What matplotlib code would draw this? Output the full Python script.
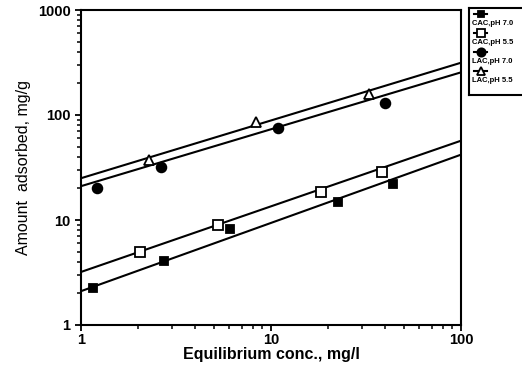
import numpy as np
import matplotlib
matplotlib.use("Agg")
import matplotlib.pyplot as plt
from matplotlib.ticker import LogLocator, NullFormatter, FixedLocator, FixedFormatter

plt.rcParams['font.family'] = ['Liberation Sans', 'DejaVu Sans']
plt.rcParams['font.weight'] = 'bold'

# measured isotherm points (C in mg/l, q in mg/g)
cac70_c = [1.16, 2.72, 6.07, 22.4, 43.7]
cac70_q = [2.25, 4.08, 8.2, 14.8, 21.9]
cac55_c = [2.05, 5.24, 18.4, 38.2]
cac55_q = [5.0, 8.9, 18.4, 28.4]
lac70_c = [1.21, 2.65, 10.9, 39.6]
lac70_q = [20.0, 32.3, 75.4, 130.0]
lac55_c = [2.29, 8.33, 32.6]
lac55_q = [37.6, 85.9, 158.0]

# Freundlich constants for the fitted lines: q = K * C**(1/n)
labels = ['CAC,pH 7.0', 'CAC,pH 5.5', 'LAC,pH 7.0', 'LAC,pH 5.5']
freund_k = [2.1, 3.2, 21.0, 25.0]
freund_inv_n = [0.65, 0.625, 0.542, 0.55]

series = [(cac70_c, cac70_q), (cac55_c, cac55_q), (lac70_c, lac70_q), (lac55_c, lac55_q)]
markers = [dict(marker='s', ms=5.5, mfc='black'),
           dict(marker='s', ms=6.5, mfc='white'),
           dict(marker='o', ms=7, mfc='black'),
           dict(marker='^', ms=7, mfc='white')]

fig = plt.figure(figsize=(5.22, 3.69), dpi=100)
ax = fig.add_axes([81 / 522, 1 - 325 / 369, 380 / 522, 315 / 369])

cc = np.logspace(0, 2, 50)
for (c, q), k, inv_n, m in zip(series, freund_k, freund_inv_n, markers):
    ax.plot(cc, k * cc ** inv_n, color='black', lw=1.5)
    ax.plot(c, q, ls='none', mec='black', mew=1.3, **m)

ax.set_xscale('log')
ax.set_yscale('log')
ax.set_xlim(1, 100)
ax.set_ylim(1, 1000)

ax.xaxis.set_major_locator(FixedLocator([1, 10, 100]))
ax.xaxis.set_major_formatter(FixedFormatter(['1', '10', '100']))
ax.yaxis.set_major_locator(FixedLocator([1, 10, 100, 1000]))
ax.yaxis.set_major_formatter(FixedFormatter(['1', '10', '100', '1000']))
for axis in (ax.xaxis, ax.yaxis):
    axis.set_minor_locator(LogLocator(base=10, subs=np.arange(2, 10)))
    axis.set_minor_formatter(NullFormatter())

ax.tick_params(which='major', direction='out', length=4, width=1.3, labelsize=10.5)
ax.tick_params(which='minor', direction='out', length=3, width=1.1)
ax.tick_params(axis='x', which='major', pad=1.5)
for s in ax.spines.values():
    s.set_linewidth(1.5)

ax.set_xlabel('Equilibrium conc., mg/l', fontsize=11.5, fontweight='bold', labelpad=0)
ax.set_ylabel('Amount  adsorbed, mg/g', fontsize=11.5, fontweight='normal', labelpad=5)

# legend panel on the right, marker above each label
lg = fig.add_axes([469 / 522, 1 - 95 / 369, 60 / 522, 87 / 369])
lg.set_xlim(469, 529)
lg.set_ylim(95, 8)
lg.set_xticks([])
lg.set_yticks([])
for s in lg.spines.values():
    s.set_linewidth(1.5)
for i, (lab, m) in enumerate(zip(labels, markers)):
    y0 = 14.5 + 19 * i
    lg.plot([474, 487], [y0, y0], color='black', lw=1.5)
    mm = dict(m)
    mm['ms'] = m['ms'] * 0.85
    lg.plot([480.5], [y0], ls='none', mec='black', mew=1.3, **mm)
    lg.text(471.5, y0 + 9, lab, fontsize=5.5, fontweight='bold', va='center', ha='left')

fig.savefig('out.png', dpi=100)
